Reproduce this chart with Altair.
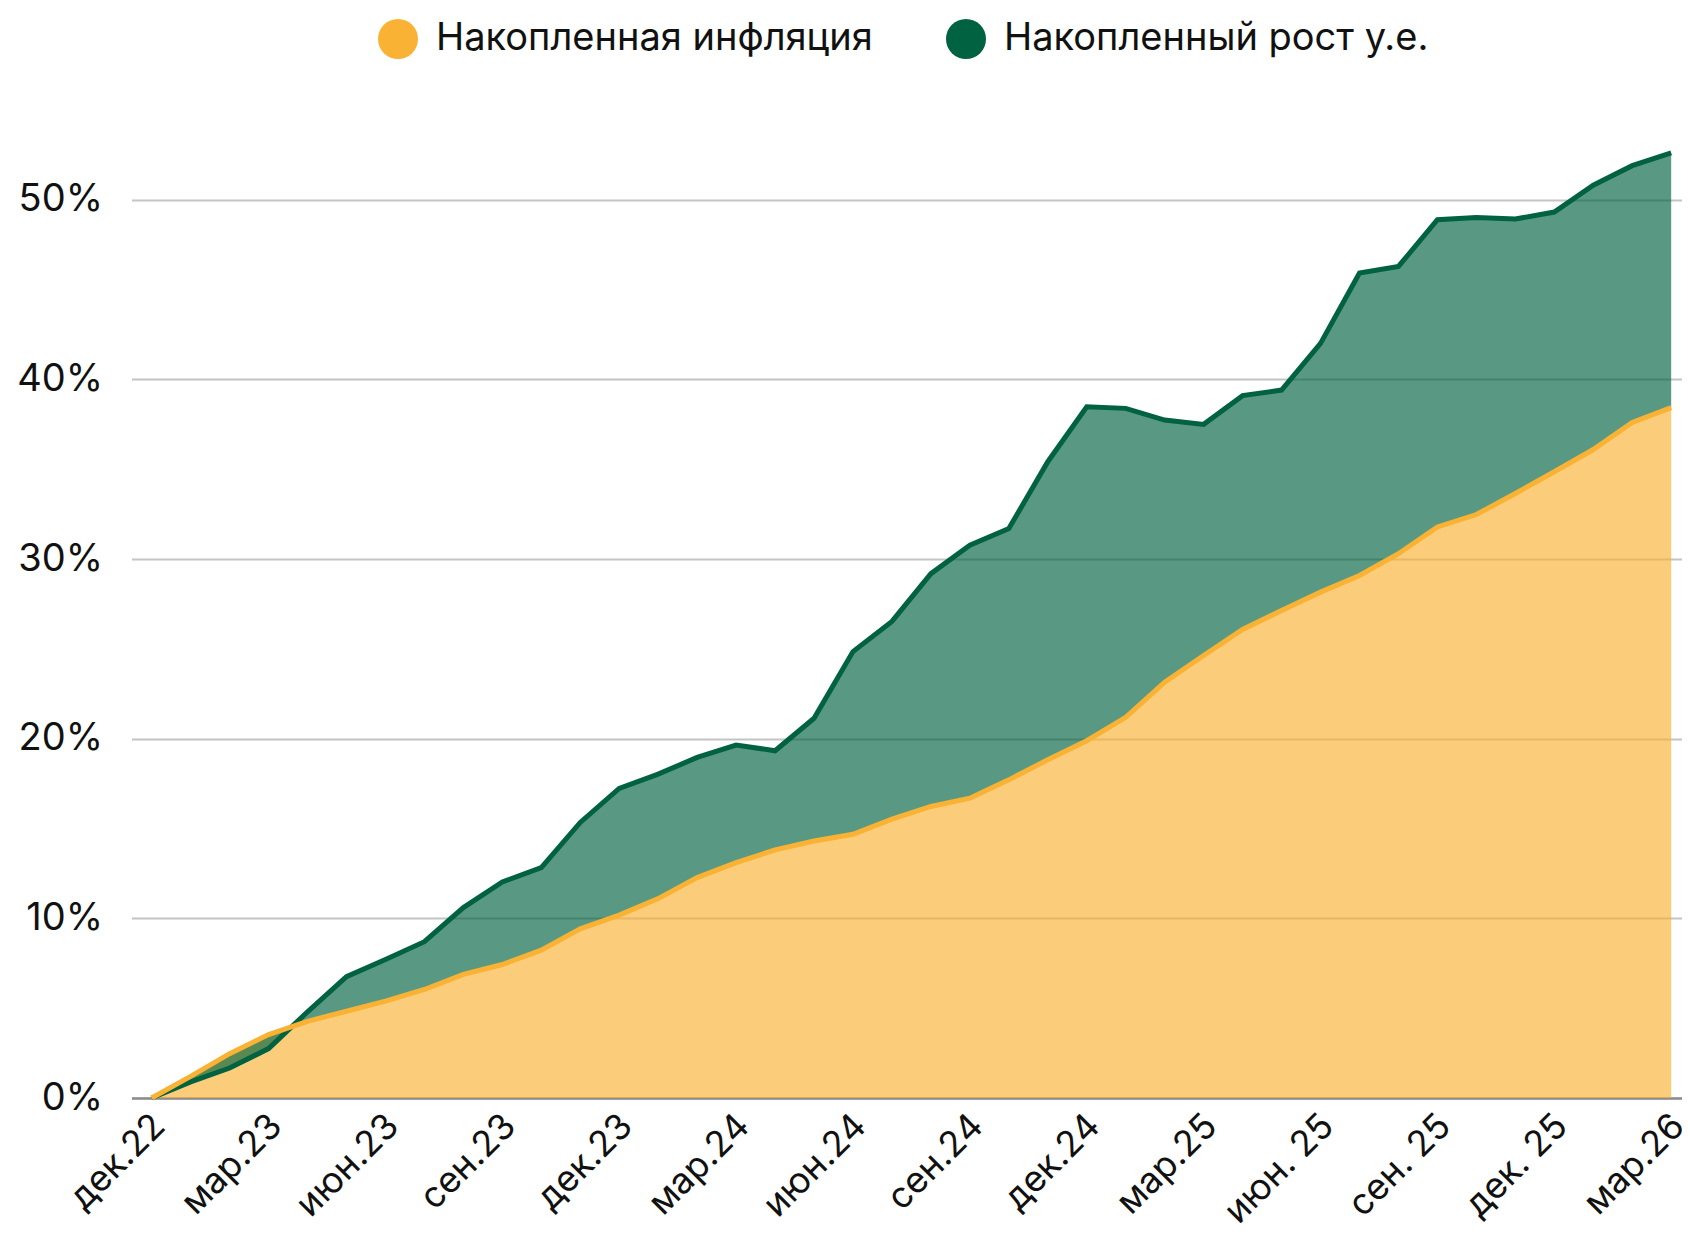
import altair as alt
import pandas as pd

months = ["2022-12", "2023-01", "2023-02", "2023-03", "2023-04", "2023-05", "2023-06", "2023-07",
          "2023-08", "2023-09", "2023-10", "2023-11", "2023-12", "2024-01", "2024-02", "2024-03",
          "2024-04", "2024-05", "2024-06", "2024-07", "2024-08", "2024-09", "2024-10", "2024-11",
          "2024-12", "2025-01", "2025-02", "2025-03", "2025-04", "2025-05", "2025-06", "2025-07",
          "2025-08", "2025-09", "2025-10", "2025-11", "2025-12", "2026-01", "2026-02", "2026-03"]

inflation = [0, 1.2, 2.47, 3.53, 4.27, 4.83, 5.39, 6.04, 6.88, 7.43, 8.23, 9.42, 10.18, 11.1,
             12.27, 13.1, 13.81, 14.31, 14.68, 15.52, 16.23, 16.69, 17.71, 18.83, 19.89, 21.19,
             23.15, 24.63, 26.08, 27.14, 28.16, 29.09, 30.3, 31.79, 32.48, 33.65, 34.86, 36.1,
             37.61, 38.43]

fx_growth = [0, 0.9, 1.67, 2.75, 4.8, 6.75, 7.71, 8.70, 10.6, 12.03, 12.83, 15.34, 17.23, 18.03,
             18.96, 19.65, 19.33, 21.14, 24.85, 26.53, 29.19, 30.77, 31.7, 35.42, 38.48, 38.39,
             37.74, 37.5, 39.1, 39.41, 42.01, 45.92, 46.29, 48.89, 49.02, 48.93, 49.32, 50.81,
             51.9, 52.61]

tick_labels = ["дек.22", "мар.23", "июн.23", "сен.23", "дек.23", "мар.24", "июн.24", "сен.24",
               "дек.24", "мар.25", "июн. 25", "сен. 25", "дек. 25", "мар.26"]

series_names = ["Накопленная инфляция", "Накопленный рост у.е."]
YELLOW = "#f9b233"
GREEN = "#006241"
FONT = "Inter"

df = pd.DataFrame({"month": months, "idx": list(range(len(months))),
                   "infl": inflation, "fx": fx_growth})

label_expr = "[" + ",".join("'" + t + "'" for t in tick_labels) + "][round(datum.value / 3)]"

x = alt.X("idx:Q",
          scale=alt.Scale(domain=[-0.518, 39.265], nice=False, zero=False),
          axis=alt.Axis(values=list(range(0, 40, 3)), labelExpr=label_expr, title=None,
                        labelAngle=-45, labelAlign="right", labelBaseline="top",
                        labelFontSize=36, labelFont=FONT, labelColor="#111111",
                        labelPadding=10, labelOffset=-5, ticks=False, grid=False, domain=True,
                        domainColor="#8c8c8c", domainWidth=2.5, labelOverlap=False))

yscale = alt.Scale(domain=[0, 55], nice=False)
yaxis = alt.Axis(values=[0, 10, 20, 30, 40, 50], labelExpr="datum.value + '%'", title=None,
                 labelFontSize=38, labelFont=FONT, labelColor="#111111", labelPadding=29,
                 ticks=False, domain=False, grid=True, gridColor="#c4c4c4", gridWidth=2)

color_scale = alt.Scale(domain=series_names, range=[YELLOW, GREEN])
legend = alt.Legend(title=None, orient="none", direction="horizontal", legendX=246.5,
                    legendY=-91, symbolType="circle", symbolSize=1600, symbolStrokeWidth=0,
                    symbolOpacity=1, labelFontSize=38, labelFont=FONT, labelColor="#111111",
                    labelOffset=18, columnPadding=73, labelLimit=1000)

base = alt.Chart(df)

yellow_area = base.transform_calculate(series="'" + series_names[0] + "'").mark_area(
    opacity=0.65).encode(
    x=x, y=alt.Y("infl:Q", scale=yscale, axis=yaxis),
    color=alt.Color("series:N", scale=color_scale, legend=legend))

green_band = base.transform_calculate(series="'" + series_names[1] + "'").mark_area(
    opacity=0.65).encode(
    x=x, y=alt.Y("infl:Q"), y2="fx:Q",
    color=alt.Color("series:N", scale=color_scale, legend=legend))

green_line = base.mark_line(color=GREEN, strokeWidth=5, strokeJoin="miter").encode(
    x=x, y="fx:Q")
yellow_line = base.mark_line(color=YELLOW, strokeWidth=5, strokeJoin="miter").encode(
    x=x, y="infl:Q")

chart = alt.layer(yellow_area, green_band, green_line, yellow_line).properties(
    width=1550, height=988,
    autosize=alt.AutoSizeParams(type="none"),
    padding={"left": 123.5, "top": 102, "right": 0, "bottom": 132},
).configure(background="white").configure_view(stroke="transparent", strokeWidth=0)

chart.save("out.html", embed_options={"renderer": "svg", "actions": False})
